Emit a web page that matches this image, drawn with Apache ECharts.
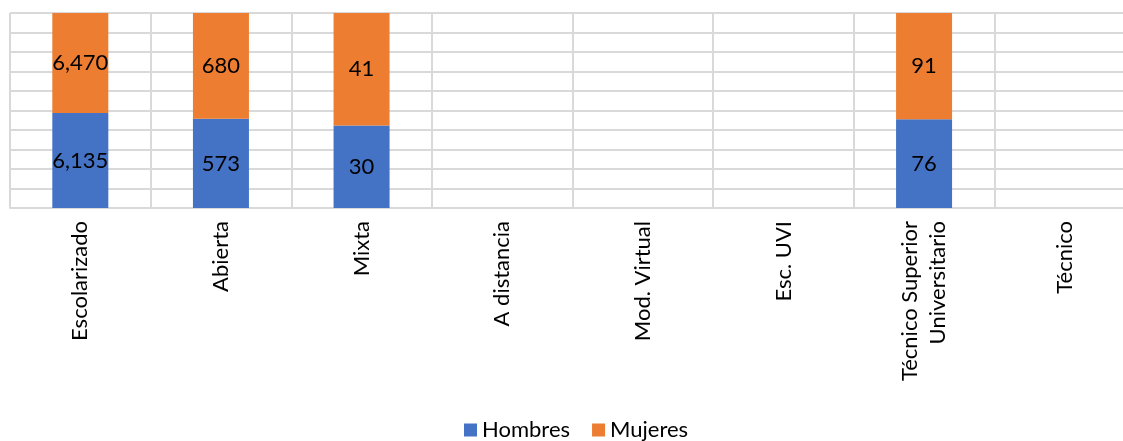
<!DOCTYPE html>
<html><head><meta charset="utf-8">
<script src="https://cdn.jsdelivr.net/npm/echarts@6/dist/echarts.min.js"></script>
<style>html,body{margin:0;padding:0;background:#fff}#c{width:1123px;height:441px}</style>
</head><body><div id="c"></div>
<script>
const categories = ['Escolarizado','Abierta','Mixta','A distancia','Mod. Virtual','Esc. UVI','Técnico Superior\nUniversitario','Técnico'];
const hombres = [6135, 573, 30, 0, 0, 0, 76, 0];
const mujeres = [6470, 680, 41, 0, 0, 0, 91, 0];
const yTicks = [0,10,20,30,40,50,60,70,80,90,100];

function pct(a, b){ return a.map((v,i)=>{ const t=a[i]+b[i]; return t>0 ? v/t*100 : '-'; }); }
const hPct = pct(hombres, mujeres);
const mPct = pct(mujeres, hombres);

const chart = echarts.init(document.getElementById('c'));
const grid = '#d9d9d9';
const font = 'Lato, "Open Sans", sans-serif';
function lbl(raw){
  return { show:true, position:'inside', color:'#000', fontSize:22, fontFamily:font,
    formatter: p => raw[p.dataIndex] ? raw[p.dataIndex].toLocaleString('en-US') : '' };
}
chart.setOption({
  animation:false,
  grid:{left:10, top:13, width:1125, height:195, containLabel:false, outerBoundsMode:'none'},
  legend:{top:414, left:459, icon:'rect', itemWidth:13, itemHeight:13, itemGap:22,
    textStyle:{fontSize:22, fontFamily:font, color:'#000'}, data:['Hombres','Mujeres']},
  xAxis:{type:'category', data:categories, boundaryGap:true,
    axisLine:{show:true, lineStyle:{color:grid, width:2}}, axisTick:{show:false},
    splitLine:{show:true, lineStyle:{color:grid, width:2}},
    axisLabel:{rotate:90, margin:13, fontSize:22, fontFamily:font, color:'#000', interval:0, lineHeight:28}},
  yAxis:{type:'value', min:yTicks[0], max:yTicks[yTicks.length-1], interval:10,
    axisLabel:{show:false}, axisLine:{show:false}, axisTick:{show:false},
    splitLine:{show:true, lineStyle:{color:grid, width:2}}},
  series:[
    {name:'Hombres', type:'bar', stack:'a', barWidth:56, data:hPct, itemStyle:{color:'#4472C4'}, label:lbl(hombres)},
    {name:'Mujeres', type:'bar', stack:'a', barWidth:56, data:mPct, itemStyle:{color:'#ED7D31'}, label:lbl(mujeres)}
  ]
});
</script></body></html>
